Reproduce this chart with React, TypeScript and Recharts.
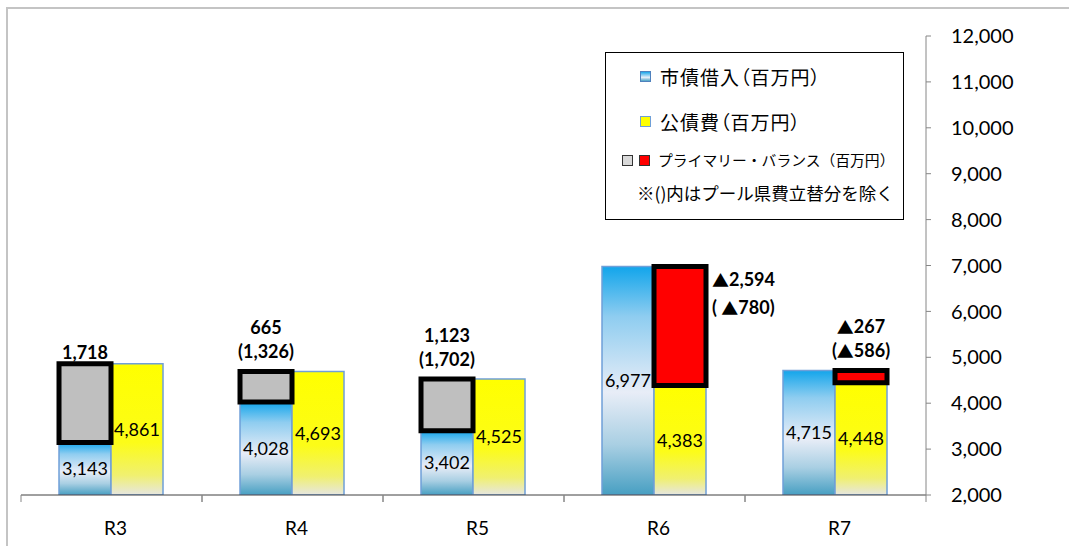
import React from "react";
import {
  BarChart,
  Bar,
  XAxis,
  YAxis,
  LabelList,
  Legend,
} from "recharts";

const categories = ["R3", "R4", "R5", "R6", "R7"];
const borrowing = [3143, 4028, 3402, 6977, 4715];
const debtService = [4861, 4693, 4525, 4383, 4448];
const primaryBalance = [1718, 665, 1123, -2594, -267];
const balanceLabels = ["1,718", "665", "1,123", "▲2,594", "▲267"];
const balanceNotes = ["", "(1,326)", "(1,702)", "( ▲780)", "(▲586)"];
const labelSide = ["top", "top", "top", "right", "top"];
const yTicks = [2000, 3000, 4000, 5000, 6000, 7000, 8000, 9000, 10000, 11000, 12000];

const data = categories.map((name, i) => {
  const pb = primaryBalance[i];
  return {
    name,
    idx: i,
    borrow: borrowing[i],
    debt: debtService[i],
    // box between the two bars: gray over 市債 when positive, red over 公債費 when negative
    surplus: pb > 0 ? [borrowing[i], borrowing[i] + pb] : null,
    deficit: pb < 0 ? [debtService[i], debtService[i] - pb] : null,
  };
});

const num = (n: number) => n.toLocaleString("en-US");
const latin = "Lato, 'Liberation Sans', sans-serif";
const jp = "'Noto Sans CJK JP', sans-serif";

// Lato draws ▲ tiny, so take it from the CJK font like the original
function withTriangles(s: string) {
  return s.split(/(▲)/).map((part, i) =>
    part === "▲" ? (
      <tspan key={i} fontFamily={jp} fontSize={17}>
        ▲
      </tspan>
    ) : (
      <tspan key={i}>{part}</tspan>
    )
  );
}

function BalanceLabel(props: any) {
  const { x, y, width, value } = props;
  const index = typeof value === "number" ? value : props.index;
  if (index == null || !balanceLabels[index]) return null;
  const main = balanceLabels[index];
  const note = balanceNotes[index];
  const style = { fontFamily: latin, fontSize: 18, fontWeight: 700, fill: "#000" };
  if (labelSide[index] === "right") {
    const tx = Number(x) + Number(width) + 6;
    return (
      <g>
        <text x={tx} y={Number(y) + 12} dominantBaseline="central" {...style}>
          {withTriangles(main)}
        </text>
        {note && (
          <text x={tx} y={Number(y) + 40} dominantBaseline="central" {...style}>
            {withTriangles(note)}
          </text>
        )}
      </g>
    );
  }
  const cx = Number(x) + Number(width) / 2;
  return (
    <g>
      <text
        x={cx}
        y={Number(y) - (note ? 44 : 12)}
        textAnchor="middle"
        dominantBaseline="central"
        {...style}
      >
        {withTriangles(main)}
      </text>
      {note && (
        <text x={cx} y={Number(y) - 20} textAnchor="middle" dominantBaseline="central" {...style}>
          {withTriangles(note)}
        </text>
      )}
    </g>
  );
}

function CategoryTick(props: any) {
  const { x, y, payload } = props;
  const half = payload?.offset ?? 90.5;
  const axisY = Number(y) - 8;
  return (
    <g>
      <line x1={x - half} x2={x - half} y1={axisY} y2={axisY + 7} stroke="#868686" />
      <line x1={x + half} x2={x + half} y1={axisY} y2={axisY + 7} stroke="#868686" />
      <text
        x={x + 4}
        y={axisY + 32}
        textAnchor="middle"
        dominantBaseline="central"
        fontFamily={latin}
        fontSize={19}
        fill="#000"
      >
        {payload.value}
      </text>
    </g>
  );
}

function LegendBox() {
  const sq = (bg: string, border: string) => ({
    position: "absolute" as const,
    width: 9,
    height: 9,
    background: bg,
    border: `1px solid ${border}`,
  });
  const txt = (left: number, top: number, size: number, extra: any = {}) => ({
    position: "absolute" as const,
    left,
    top,
    fontFamily: jp,
    fontSize: size,
    lineHeight: 1,
    color: "#000",
    whiteSpace: "nowrap" as const,
    transform: "translateY(-50%)",
    ...extra,
  });
  return (
    <div
      style={{
        position: "relative",
        width: 299,
        height: 168,
        border: "1px solid #000",
        background: "#fff",
        boxSizing: "border-box",
      }}
    >
      <div style={{ ...sq("linear-gradient(#1aa7ea, #e6eef8 60%, #4aa2c4)", "#4f81bd"), left: 34, top: 18 }} />
      <div style={txt(54, 23, 19, { fontFeatureSettings: "'palt'", letterSpacing: 1 })}>市債借入（百万円）</div>
      <div style={{ ...sq("#ffff00", "#6f9fd8"), left: 34, top: 63 }} />
      <div style={txt(54, 68, 19, { fontFeatureSettings: "'palt'", letterSpacing: 1 })}>公債費（百万円）</div>
      <div style={{ ...sq("#d9d9d9", "#333"), left: 16, top: 102 }} />
      <div style={{ ...sq("#ff0000", "#333"), left: 33, top: 102 }} />
      <div style={txt(52, 107, 14.8)}>プライマリー・バランス（百万円）</div>
      <div style={txt(31, 140, 17.5)}>※()内はプール県費立替分を除く</div>
    </div>
  );
}

export default function App() {
  return (
    <div style={{ position: "absolute", left: 0, top: 0, width: 1069, height: 546, background: "#fff" }}>
      <div
        style={{
          position: "absolute",
          left: 6,
          top: 7,
          right: 0,
          bottom: 0,
          borderTop: "2px solid #c4c4c4",
          borderLeft: "2px solid #c4c4c4",
        }}
      />
      <div style={{ position: "absolute", left: 0, top: 0 }}>
        <BarChart
          width={1069}
          height={546}
          data={data}
          margin={{ top: 36, right: 0, bottom: 0, left: 21 }}
          barCategoryGap="21%"
          barGap={0}
        >
          <defs>
            <linearGradient id="gBlue" x1="0" y1="0" x2="0" y2="1">
              <stop offset="0%" stopColor="#12a5eb" />
              <stop offset="22%" stopColor="#8fcdf0" />
              <stop offset="55%" stopColor="#e8edf7" />
              <stop offset="78%" stopColor="#a9cfe3" />
              <stop offset="100%" stopColor="#479fc2" />
            </linearGradient>
            <linearGradient id="gYellow" x1="0" y1="0" x2="0" y2="1">
              <stop offset="0%" stopColor="#ffff00" />
              <stop offset="60%" stopColor="#fcfc18" />
              <stop offset="85%" stopColor="#f0f070" />
              <stop offset="100%" stopColor="#e6e6e2" />
            </linearGradient>
          </defs>
          <XAxis
            xAxisId="main"
            dataKey="name"
            height={51}
            interval={0}
            axisLine={{ stroke: "#404040" }}
            tickLine={false}
            tickSize={6}
            tick={<CategoryTick />}
          />
          <XAxis
            xAxisId="ov"
            dataKey="name"
            orientation="top"
            height={0}
            tick={false}
            tickLine={false}
            axisLine={{ stroke: "#000", strokeWidth: 2 }}
          />
          <YAxis
            orientation="right"
            width={143}
            domain={[2000, 12000]}
            ticks={yTicks}
            interval={0}
            allowDataOverflow
            tickFormatter={num}
            axisLine={{ stroke: "#868686" }}
            tickLine={{ stroke: "#868686" }}
            tickSize={5}
            tickMargin={20}
            tick={{ fill: "#000", fontSize: 20, fontFamily: latin }}
          />
          <YAxis
            yAxisId="edge"
            orientation="left"
            width={0}
            domain={[0, 1]}
            tick={false}
            tickLine={false}
            axisLine={{ stroke: "#000", strokeWidth: 2 }}
          />
          <Legend
            layout="horizontal"
            align="center"
            verticalAlign="middle"
            wrapperStyle={{ left: 605, top: 52, width: 299, height: 168 }}
            content={() => <LegendBox />}
          />
          <Bar
            xAxisId="main"
            dataKey="borrow"
            name="市債借入（百万円）"
            fill="url(#gBlue)"
            stroke="#6f9fd8"
            strokeWidth={1.5}
            isAnimationActive={false}
          >
            <LabelList
              dataKey="borrow"
              position="center"
              formatter={(v: any) => num(Number(v))}
              fill="#000"
              fontSize={18}
              fontFamily={latin}
            />
          </Bar>
          <Bar
            xAxisId="main"
            dataKey="debt"
            name="公債費（百万円）"
            fill="url(#gYellow)"
            stroke="#6f9fd8"
            strokeWidth={1.5}
            isAnimationActive={false}
          >
            <LabelList
              dataKey="debt"
              position="center"
              formatter={(v: any) => num(Number(v))}
              fill="#000"
              fontSize={18}
              fontFamily={latin}
            />
          </Bar>
          <Bar
            xAxisId="ov"
            dataKey="surplus"
            fill="#bfbfbf"
            stroke="#000"
            strokeWidth={5}
            isAnimationActive={false}
          >
            <LabelList dataKey="idx" content={<BalanceLabel />} />
          </Bar>
          <Bar
            xAxisId="ov"
            dataKey="deficit"
            fill="#ff0000"
            stroke="#000"
            strokeWidth={5}
            isAnimationActive={false}
          >
            <LabelList dataKey="idx" content={<BalanceLabel />} />
          </Bar>
        </BarChart>
      </div>
    </div>
  );
}
